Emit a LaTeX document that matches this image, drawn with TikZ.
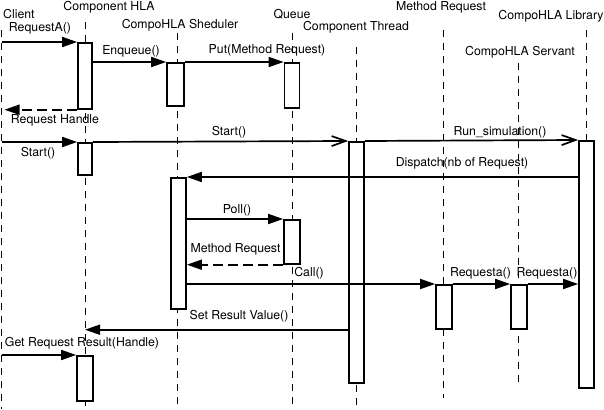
\documentclass[tikz,border=0pt]{standalone}
\usepackage{fontspec}
\setmainfont{TeX Gyre Heros}
\usetikzlibrary{arrows.meta}

\begin{document}
\begin{tikzpicture}[x=1pt, y=-1pt,
  every node/.style={font=\fontsize{12.3}{14}\selectfont, inner sep=0pt},
  lifeline/.style={line width=0.9pt, dash pattern=on 7pt off 6pt},
  act/.style={draw, fill=white, line width=1.7pt, minimum width=15pt, anchor=north, inner sep=0pt},
  call/.style={line width=1.7pt, -{Triangle[length=15pt, width=10pt]}},
  ret/.style={call, dash pattern=on 10pt off 5pt},
  async/.style={line width=1.7pt, -{Straight Barb[length=14pt, width=10pt, line width=1.7pt]}}]
  \useasboundingbox (0,0) rectangle (604,409);

  % Headers
  \node[anchor=west] (hClient) at (3,14) {Client};
  \node (hHLA) at (109,7) {Component HLA};
  \node (hShed) at (180,25) {CompoHLA Sheduler};
  \node (hQueue) at (292,14) {Queue};
  \node (hThread) at (356,27) {Component Thread};
  \node (hMReq) at (441,7) {Method Request};
  \node (hLib) at (551,16) {CompoHLA Library};
  \node (hServ) at (520,52) {CompoHLA Servant};

  % Lifelines
  \foreach \n/\x/\t/\b in {cl/1.5/30/409, hla/85/22/409, shed/177/33/409, queue/292/33/409,
      thread/356.5/47/409, mreq/443.5/30/398, serv/518.5/63/385, lib/586.5/30/140} {
    \coordinate (\n T) at (\x,\t);
    \coordinate (\n B) at (\x,\b);
    \draw[lifeline] (\n T) -- (\n B);
  }

  % Activation boxes
  \node[act, minimum height=66pt, minimum width=14pt] (hla1) at (85,42) {};
  \node[act, minimum height=43pt, minimum width=17pt] (shed1) at (175.5,62) {};
  \node[act, minimum height=45pt] (queue1) at (292,62) {};
  \node[act, minimum height=32pt, minimum width=14pt] (hla2) at (85,142) {};
  \node[act, minimum height=241pt] (thread) at (356.5,141) {};
  \node[act, minimum height=247pt] (lib) at (586.5,140) {};
  \node[act, minimum height=131pt] (shed2) at (178.5,177) {};
  \node[act, minimum height=44pt, minimum width=16pt] (queue2) at (292,219) {};
  \node[act, minimum height=44pt, minimum width=16pt] (mreq) at (444,284) {};
  \node[act, minimum height=44pt, minimum width=16pt] (serv) at (519,284) {};
  \node[act, minimum height=45pt, minimum width=16pt] (hla3) at (85,355) {};

  % RequestA() and enqueueing
  \draw[call] (clT |- hla1.north) -- (hla1.north west);
  \node (lReqA) at (40,28) {RequestA()};
  \draw[call] (hla1.east |- shed1.north) -- (shed1.north west);
  \node (lEnq) at (131,51) {Enqueue()};
  \draw[call] (shed1.north east) -- (queue1.north west);
  \node (lPut) at (267,50) {Put(Method Request)};
  \draw[ret, shorten >=3pt] (hla1.south west) -- (clT |- hla1.south);
  \node (lHandle) at (55,120) {Request Handle};

  % Start()
  \draw[call] (clT |- hla2.north) -- (hla2.north west);
  \node (lStart1) at (38,153) {Start()};
  \draw[async] (hla2.north east) -- (thread.north west);
  \node (lStart2) at (229,132) {Start()};
  \draw[async] (thread.north east) -- (lib.north west);
  \node (lRun) at (500,132) {Run\_simulation()};

  % Dispatch and poll
  \draw[call] (lib.west |- shed2.north) -- (shed2.north east);
  \node (lDisp) at (462,163) {Dispatch(nb of Request)};
  \draw[call] (shed2.east |- queue2.north) -- (queue2.north west);
  \node (lPoll) at (237,210) {Poll()};
  \draw[ret] (queue2.south west) -- (shed2.east |- queue2.south);
  \node (lMR) at (235.5,249) {Method Request};

  % Call()
  \draw[call] (shed2.east |- mreq.north) -- (mreq.north west);
  \node (lCall) at (309,273) {Call()};
  \draw[call] (mreq.north east) -- (serv.north west);
  \node (lReqa1) at (480.5,273) {Requesta()};
  \draw[call] (serv.north east) -- (lib.west |- serv.north);
  \node (lReqa2) at (547,273) {Requesta()};

  % Result
  \draw[call] (thread.west |- mreq.south) -- (hlaT |- mreq.south);
  \node (lSet) at (239,316) {Set Result Value()};
  \draw[call] (clT |- hla3.north) -- (hla3.north west);
  \node (lGet) at (82,343) {Get Request Result(Handle)};

\end{tikzpicture}
\end{document}
